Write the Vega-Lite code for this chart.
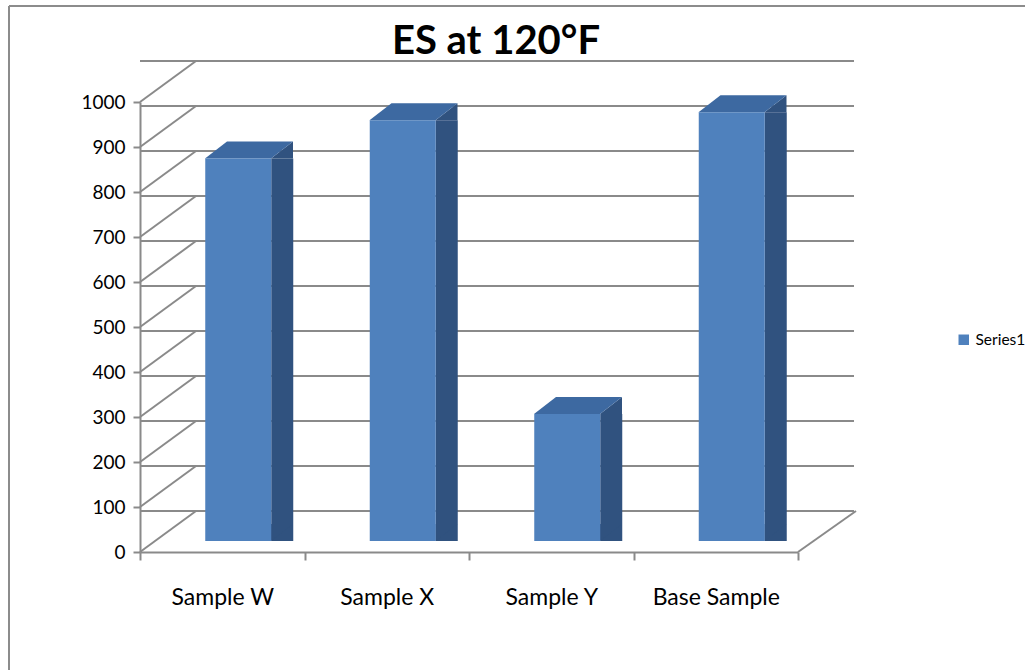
{
  "$schema": "https://vega.github.io/schema/vega-lite/v6.json",
  "width": 658,
  "height": 450,
  "autosize": {"type": "none"},
  "padding": {"left": 140, "top": 102, "right": 227, "bottom": 118},
  "background": "white",
  "config": {"view": {"stroke": null}, "font": "Lato"},
  "title": {"text": "ES at 120°F", "fontSize": 40, "fontWeight": "bold", "font": "Lato", "color": "#000000", "anchor": "middle", "frame": "group", "dx": 27, "offset": -57},
  "datasets": {
    "bars": [
      {"sample": "Sample W", "value": 850, "series": "Series1"},
      {"sample": "Sample X", "value": 935, "series": "Series1"},
      {"sample": "Sample Y", "value": 282, "series": "Series1"},
      {"sample": "Base Sample", "value": 953, "series": "Series1"}
    ],
    "grid": [
      {"v": 0}, {"v": 100}, {"v": 200}, {"v": 300}, {"v": 400}, {"v": 500},
      {"v": 600}, {"v": 700}, {"v": 800}, {"v": 900}, {"v": 1000}
    ],
    "frame": [{"part": "frame"}]
  },
  "layer": [
    {
      "data": {"name": "grid"},
      "mark": {"type": "rule", "color": "#8A8A8A", "strokeWidth": 2, "xOffset": 56, "x2Offset": 56, "yOffset": -41},
      "encoding": {
        "y": {"field": "v", "type": "quantitative", "scale": {"domain": [0, 1000]}}
      }
    },
    {
      "data": {"name": "grid"},
      "mark": {"type": "rule", "color": "#8A8A8A", "strokeWidth": 2, "x2Offset": 56, "y2Offset": -41},
      "encoding": {
        "x": {"datum": "Sample W", "type": "nominal", "bandPosition": 0, "scale": {"domain": ["Sample W", "Sample X", "Sample Y", "Base Sample"], "paddingInner": 0, "paddingOuter": 0}},
        "x2": {"datum": "Sample W", "bandPosition": 0},
        "y": {"field": "v", "type": "quantitative", "scale": {"domain": [0, 1000]}},
        "y2": {"field": "v"}
      }
    },
    {
      "data": {"name": "frame"},
      "mark": {"type": "rule", "color": "#8A8A8A", "strokeWidth": 2, "x2Offset": 58, "y2Offset": -41},
      "encoding": {
        "x": {"datum": "Base Sample", "type": "nominal", "bandPosition": 1},
        "x2": {"datum": "Base Sample", "bandPosition": 1},
        "y": {"datum": 0, "type": "quantitative"},
        "y2": {"datum": 0}
      }
    },
    {
      "data": {"name": "frame"},
      "mark": {"type": "rule", "color": "#8C8C8C", "strokeWidth": 2, "xOffset": -131, "x2Offset": 260, "yOffset": -96, "y2Offset": -96},
      "encoding": {
        "x": {"datum": "Sample W", "type": "nominal", "bandPosition": 0},
        "x2": {"datum": "Base Sample", "bandPosition": 1},
        "y": {"datum": 1000, "type": "quantitative"},
        "y2": {"datum": 1000}
      }
    },
    {
      "data": {"name": "frame"},
      "mark": {"type": "rule", "color": "#8C8C8C", "strokeWidth": 2, "xOffset": -131, "x2Offset": -131, "yOffset": -96, "y2Offset": 130},
      "encoding": {
        "x": {"datum": "Sample W", "type": "nominal", "bandPosition": 0},
        "x2": {"datum": "Sample W", "bandPosition": 0},
        "y": {"datum": 1000, "type": "quantitative"},
        "y2": {"datum": 0}
      }
    },
    {
      "data": {"name": "bars"},
      "mark": {"type": "bar", "width": 22, "xOffset": 60, "yOffset": -11, "y2Offset": -28, "color": "#30527F"},
      "encoding": {
        "x": {"field": "sample", "type": "nominal"},
        "y": {"field": "value", "type": "quantitative"}
      }
    },
    {
      "data": {"name": "bars"},
      "mark": {"type": "point", "shape": "M48.75 -11 L70.75 -28 L70.75 -11 Z", "size": 4, "filled": true, "opacity": 1, "strokeWidth": 0, "color": "#30527F"},
      "encoding": {
        "x": {"field": "sample", "type": "nominal"},
        "y": {"field": "value", "type": "quantitative"}
      }
    },
    {
      "data": {"name": "bars"},
      "mark": {"type": "point", "shape": "M48.75 -28 L48.75 -11 L70.75 -28 Z", "size": 4, "filled": true, "opacity": 1, "strokeWidth": 0, "color": "#30527F"},
      "encoding": {
        "x": {"field": "sample", "type": "nominal"},
        "y": {"datum": 0, "type": "quantitative"}
      }
    },
    {
      "data": {"name": "bars"},
      "mark": {"type": "point", "shape": "M-17.25 -11 L48.75 -11 L70.75 -28 L4.75 -28 Z", "size": 4, "filled": true, "opacity": 1, "strokeWidth": 0, "color": "#3D69A1"},
      "encoding": {
        "x": {"field": "sample", "type": "nominal"},
        "y": {"field": "value", "type": "quantitative"}
      }
    },
    {
      "data": {"name": "bars"},
      "mark": {"type": "bar", "width": 66, "xOffset": 16, "yOffset": -11, "y2Offset": -11},
      "encoding": {
        "x": {
          "field": "sample", "type": "nominal", "sort": null,
          "scale": {"domain": ["Sample W", "Sample X", "Sample Y", "Base Sample"], "paddingInner": 0, "paddingOuter": 0},
          "axis": {"title": null, "labelAngle": 0, "bandPosition": 0.5, "labelAlign": "center", "labelFlush": false, "domainColor": "#8A8A8A", "domainWidth": 2, "tickColor": "#8A8A8A", "tickWidth": 2, "tickSize": 8, "tickBand": "extent", "labelFont": "Lato", "labelFontSize": 23, "labelColor": "#000000", "labelPadding": 37}
        },
        "y": {
          "field": "value", "type": "quantitative",
          "scale": {"domain": [0, 1000]},
          "axis": {"title": null, "format": "d", "values": [0, 100, 200, 300, 400, 500, 600, 700, 800, 900, 1000], "grid": false, "domainColor": "#8A8A8A", "domainWidth": 2, "tickColor": "#8A8A8A", "tickWidth": 2, "tickSize": 7, "labelFont": "Lato", "labelFontSize": 19, "labelColor": "#000000", "labelPadding": 8}
        },
        "color": {
          "field": "series", "type": "nominal",
          "scale": {"domain": ["Series1"], "range": ["#4F81BD"]},
          "legend": {"orient": "none", "legendX": 816, "legendY": 230, "title": null, "symbolType": "square", "symbolSize": 110, "symbolStrokeWidth": 0, "labelFont": "Lato", "labelFontSize": 15.5, "labelColor": "#000000", "labelOffset": 4}
        }
      }
    }
  ]
}
